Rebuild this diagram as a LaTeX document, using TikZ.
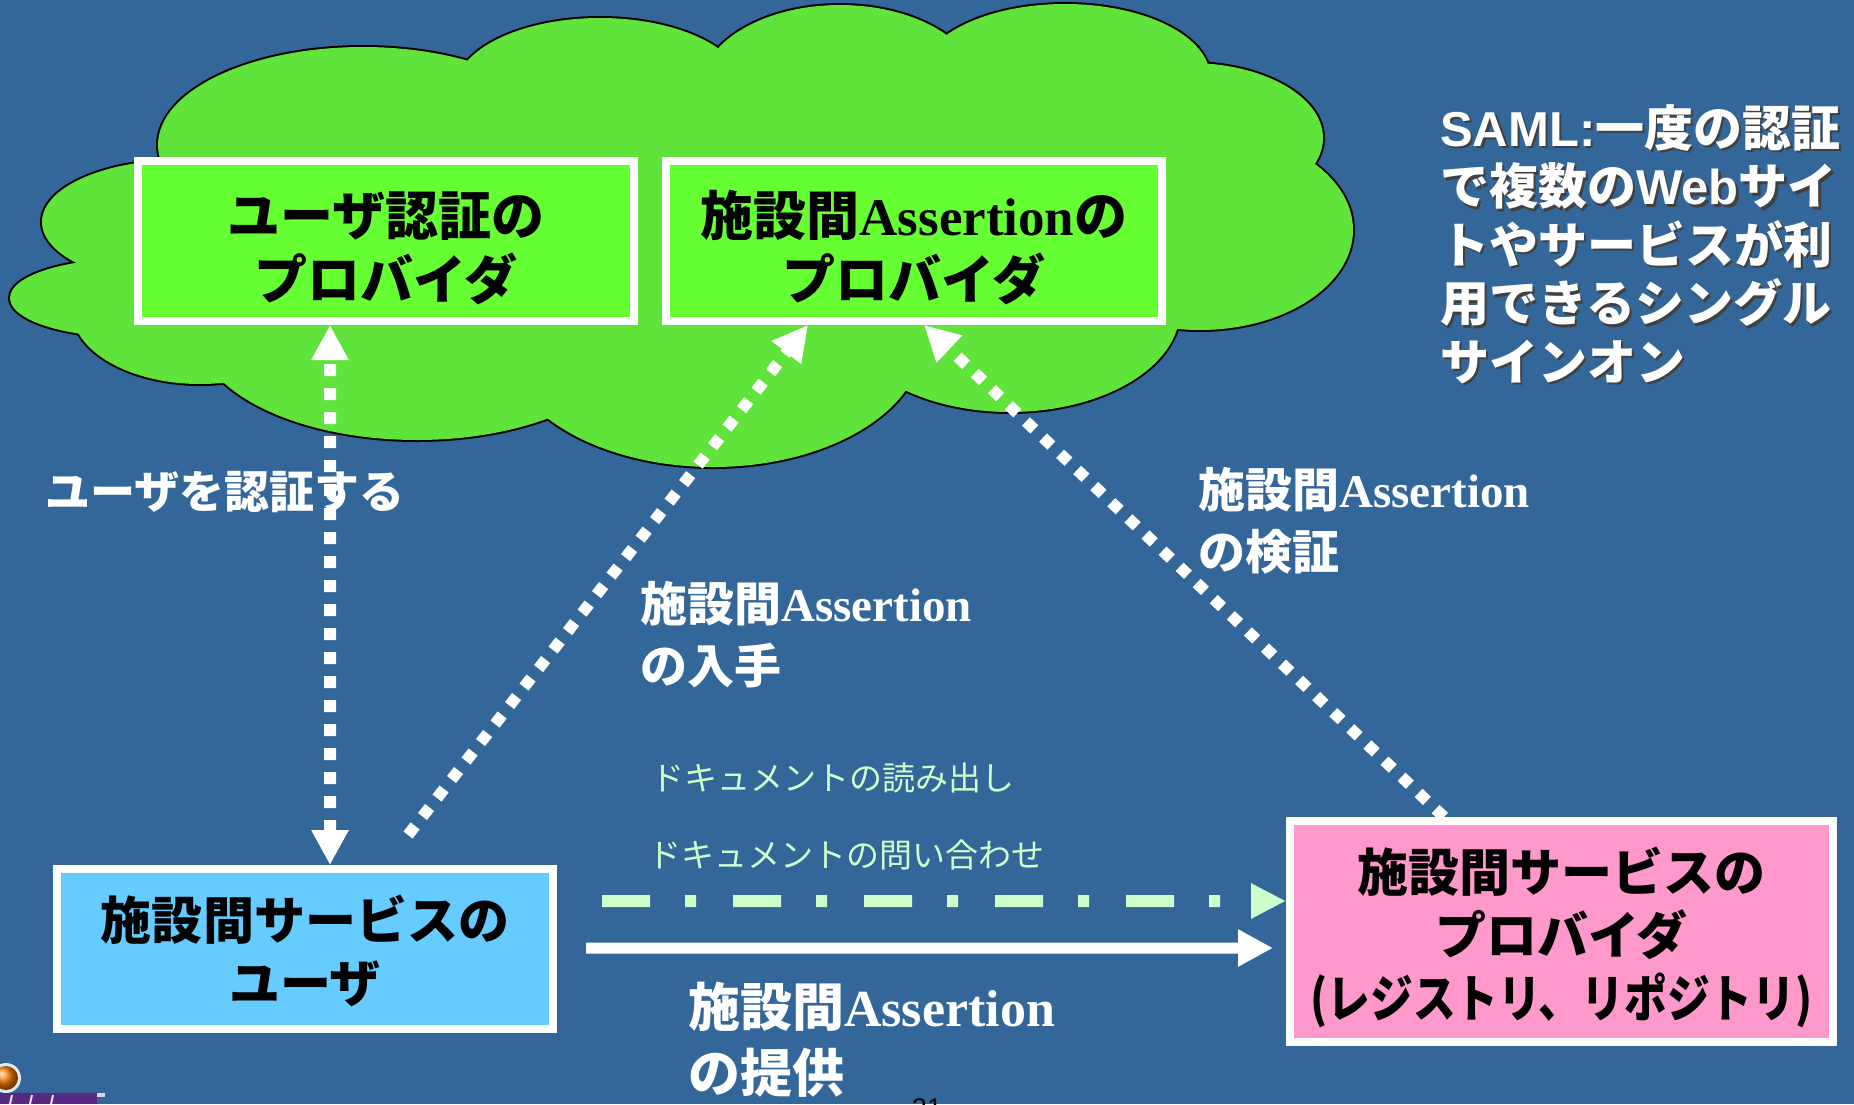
\documentclass[tikz,border=0pt]{standalone}
\usepackage{fontspec}
\usepackage{graphicx}
\setmainfont{Liberation Serif}
\newfontfamily\jp{Noto Sans CJK JP}
\newfontfamily\ars{Liberation Sans}
\usetikzlibrary{arrows.meta}
\definecolor{bg}{RGB}{51,102,153}
\definecolor{cloudgreen}{RGB}{96,228,60}
\definecolor{boxgreen}{RGB}{102,255,51}
\definecolor{boxblue}{RGB}{102,204,255}
\definecolor{boxpink}{RGB}{255,153,204}
\definecolor{lightgreen}{RGB}{204,255,204}
\definecolor{logopurple}{RGB}{90,40,130}
\newcommand\lat[1]{{\rmfamily #1}}
\newcommand\arl[1]{{\ars #1}}
\begin{document}
\begin{tikzpicture}[x=1bp,y=-1bp,
  >={Triangle[length=35bp,width=35bp]},
  box/.style={draw=white, line width=8bp, inner sep=0pt},
  boxtext/.style={inner sep=0pt, align=center, text=black,
    font=\jp\bfseries\fontsize{51bp}{63bp}\selectfont},
  lbl/.style={text=white, align=left, inner sep=0pt, anchor=west,
    font=\jp\bfseries\fontsize{47bp}{62bp}\selectfont},
  doclbl/.style={text=lightgreen, inner sep=0pt, anchor=west,
    font=\jp\fontsize{33bp}{40bp}\selectfont},
  samltext/.style={align=left, inner sep=0pt, anchor=west,
    font=\jp\bfseries\fontsize{49bp}{58.5bp}\selectfont},
  vdash/.style={draw=white, line width=12bp, dash pattern=on 12bp off 12bp, <->},
  diag/.style={draw=white, line width=11.5bp, dash pattern=on 11.5bp off 12bp, ->},
  ddarrow/.style={draw=lightgreen, line width=12bp, dash pattern=on 48bp off 35bp on 11bp off 37bp,
    -{Triangle[length=35bp,width=33bp]}},
  solidarr/.style={draw=white, line width=11bp, ->}
]
\useasboundingbox (0,0) rectangle (1854,1104);
\clip (0,0) rectangle (1854,1104);
\fill[bg] (0,0) rectangle (1854,1104);

% cloud: outline then fill
\foreach \cx/\cy/\rx/\ry in {363/145/205/98, 600/90/145/72, 840/90/140/85, 1065/77/145/73,
  1190/138/133/75, 1200/230/153/100, 1010/310/170/102, 713/340/210/127, 417/330/220/110,
  200/310/128/74, 127/298/117/39, 180/222/138/62}
  \draw[black, line width=4bp] (\cx,\cy) ellipse [x radius=\rx bp, y radius=\ry bp];
\foreach \cx/\cy/\rx/\ry in {363/145/205/98, 600/90/145/72, 840/90/140/85, 1065/77/145/73,
  1190/138/133/75, 1200/230/153/100, 1010/310/170/102, 713/340/210/127, 417/330/220/110,
  200/310/128/74, 127/298/117/39, 180/222/138/62, 680/230/560/170}
  \fill[cloudgreen] (\cx,\cy) ellipse [x radius=\rx bp, y radius=\ry bp];

% boxes
\node[box, fill=boxgreen, minimum width=496bp, minimum height=160bp] (uauth) at (386,241) {};
\node[box, fill=boxgreen, minimum width=496bp, minimum height=160bp] (aprov) at (914,241) {};
\node[box, fill=boxblue, minimum width=496bp, minimum height=160bp] (suser) at (305,949) {};
\node[box, fill=boxpink, minimum width=543bp, minimum height=221bp] (sprov) at (1561.5,931.5) {};

\node[boxtext, font=\jp\bfseries\fontsize{53bp}{64bp}\selectfont] (uauthtext) at (386,248)
  {ユーザ認証の\\プロバイダ};
\node[boxtext, font=\jp\bfseries\fontsize{53bp}{64bp}\selectfont] (aprovtext) at (914,248)
  {施設間\lat{Assertion}の\\プロバイダ};
\node[boxtext] (susertext) at (305,951)
  {施設間サービスの\\ユーザ};
\node[boxtext] (sprovtext) at (1561.5,937.5)
  {施設間サービスの\\プロバイダ\\\resizebox{502bp}{\height}{(レジストリ、リポジトリ)}};

% labels
\node[lbl, font=\jp\bfseries\fontsize{45bp}{54bp}\selectfont] (lauth) at (45,492) {ユーザを認証する};
\node[lbl] (lget) at (640,635) {施設間\lat{Assertion}\\の入手};
\node[lbl] (lver) at (1198,521) {施設間\lat{Assertion}\\の検証};
\node[lbl, font=\jp\bfseries\fontsize{52bp}{66bp}\selectfont] (lprov) at (688,1040) {施設間\lat{Assertion}\\の提供};
\node[doclbl] (dread) at (651,778) {ドキュメントの読み出し};
\node[doclbl] (dquery) at (648,855) {ドキュメントの問い合わせ};

\node[samltext, text=black!75] (samlshadow) at (1442.5,246.5)
  {\arl{SAML:}一度の認証\\で複数の\arl{Web}サイ\\トやサービスが利\\用できるシングル\\サインオン};
\node[samltext, text=white] (saml) at (1440,244)
  {\arl{SAML:}一度の認証\\で複数の\arl{Web}サイ\\トやサービスが利\\用できるシングル\\サインオン};

% connectors
\draw[vdash] ([xshift=25bp]suser.north) -- ([xshift=-56bp]uauth.south);
\draw[diag] ([xshift=103bp,yshift=30bp]suser.north) -- ([xshift=-106bp]aprov.south);
\draw[diag] ([xshift=-117.5bp]sprov.north) -- ([xshift=10bp]aprov.south);
\draw[ddarrow] ([xshift=45bp,yshift=48bp]suser.east) -- ([yshift=30.5bp]sprov.west);
\draw[solidarr] ([xshift=29bp,yshift=1bp]suser.east) -- ([xshift=-13bp,yshift=-16.5bp]sprov.west);

% logo fragment and page number
\fill[white!85!bg] (6,1078) circle (15bp);
\shade[ball color=orange] (6,1078) circle (12bp);
\fill[logopurple] (0,1093) rectangle (97,1104);
\draw[white!85!logopurple, line width=2bp] (12,1095) -- (10,1104) (32,1095) -- (30,1104) (53,1095) -- (51,1104);
\fill[white!80!logopurple] (97,1093) rectangle (105,1097);
\node[font=\ars\fontsize{27bp}{30bp}\selectfont, text=black, anchor=north, inner sep=0pt] (pagenum) at (927,1098) {21};
\end{tikzpicture}
\end{document}
